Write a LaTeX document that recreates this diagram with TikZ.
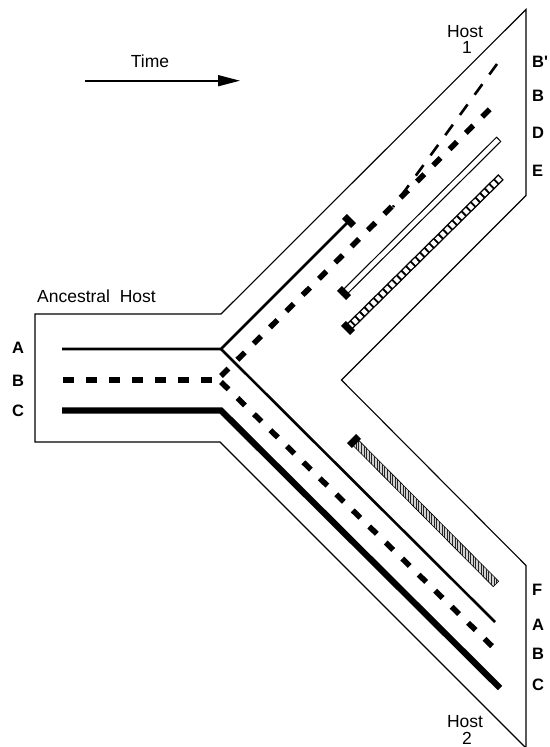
\documentclass[tikz,border=0pt]{standalone}
\usepackage{fontspec}
\setmainfont{Liberation Sans}
\usetikzlibrary{arrows.meta,calc,patterns.meta}
\begin{document}
\begin{tikzpicture}[x=1pt,y=-1pt,
  lbl/.style={font=\fontsize{16.5}{18}\selectfont\bfseries, inner sep=0pt},
  txt/.style={font=\fontsize{17.5}{18}\selectfont, inner sep=0pt},
  outline/.style={line width=1.1pt, line join=miter},
  solidA/.style={line width=2.6pt},
  thickC/.style={line width=6.3pt},
  dashB/.style={line width=5.5pt, dash pattern=on 10.5pt off 12.5pt},
  thinB/.style={line width=2.6pt, dash pattern=on 13pt off 12pt},
  blockend/.style={line width=7pt},
]
\useasboundingbox (0,0) rectangle (549,747);

% outline of hosts
\coordinate (o1) at (35,314);
\coordinate (o2) at (221,314);
\coordinate (o3) at (526,9.5);
\coordinate (o4) at (526,195.5);
\coordinate (o5) at (341.5,380);
\coordinate (o6) at (526,565.5);
\coordinate (o7) at (526,748);
\coordinate (o8) at (220,442);
\coordinate (o9) at (35,442);
\draw[outline] (o1)--(o2)--(o3)--(o4)--(o5)--(o6)--(o7)--(o8)--(o9)--cycle;

% time arrow
\coordinate (t0) at (85,80.7);
\coordinate (t1) at (240,80.7);
\draw[line width=1.6pt, -{Triangle[length=22pt,width=11pt]}] (t0)--(t1);
\node[txt] (time) at (150,61.5) {Time};

% texts
\node[txt] (anc) at (96.5,296.5) {Ancestral\ \ Host};
\node[txt] (h1a) at (465,31.3) {Host};
\node[txt] (h1b) at (467,47.3) {1};
\node[txt] (h2a) at (465,722) {Host};
\node[txt] (h2b) at (467,738.5) {2};

% left labels
\node[lbl] (lA) at (18,348) {A};
\node[lbl] (lB) at (18,381) {B};
\node[lbl] (lC) at (18,411) {C};
% right labels
\node[lbl,anchor=west] (rBp) at (532,62) {B\textquotesingle};
\node[lbl,anchor=west] (rB1) at (532,96) {B};
\node[lbl,anchor=west] (rD) at (532,133) {D};
\node[lbl,anchor=west] (rE) at (532,171) {E};
\node[lbl,anchor=west] (rF) at (532,590) {F};
\node[lbl,anchor=west] (rA) at (532,625) {A};
\node[lbl,anchor=west] (rB2) at (532,654) {B};
\node[lbl,anchor=west] (rC) at (532,685) {C};

% line A
\coordinate (a0) at (62,349);
\coordinate (aj) at (221,349);
\coordinate (a1) at (349,221);
\coordinate (a2) at (495,622);
\draw[solidA, line join=miter] (a0)--(aj)--(a1);
\draw[solidA] (aj)--(a2);
\draw[blockend] ($(a1)+(-4.6,-4.6)$)--($(a1)+(4.6,4.6)$);

% line B
\coordinate (b0) at (63,380);
\coordinate (bj) at (215,380);
\coordinate (bu0) at (221,376);
\coordinate (bu1) at (496,103);
\coordinate (bl0) at (221,382);
\coordinate (bl1) at (496,650);
\draw[dashB] (b0)--(bj);
\draw[dashB] (bu0)--(bu1);
\draw[dashB] (bl0)--(bl1);
% B'
\coordinate (bp0) at (393,207);
\coordinate (bp1) at (497,64);
\draw[thinB] (bp1)--(bp0);

% line C
\coordinate (c0) at (62,410.5);
\coordinate (cj) at (221,410.5);
\coordinate (c1) at (500,688);
\draw[thickC, line join=miter] (c0)--(cj)--(c1);

% D : open bar
\coordinate (d0) at (344,293);
\coordinate (d1) at (499,139);
\draw[line width=7pt] (d0)--(d1);
\draw[white, line width=4.6pt, shorten <=1.2pt, shorten >=1.2pt] (d0)--(d1);
\draw[blockend] ($(d0)+(-4.6,-4.6)$)--($(d0)+(4.6,4.6)$);

% E : ladder bar
\coordinate (e0) at (348,328);
\coordinate (e1) at (501,177);
\draw[line width=8pt] (e0)--(e1);
\draw[white, line width=5.2pt, dash pattern=on 4.3pt off 2.2pt, shorten <=1.4pt, shorten >=1.4pt] (e0)--(e1);
\draw[blockend] ($(e0)+(-4.6,-4.6)$)--($(e0)+(4.6,4.6)$);

% F : hatched bar
\coordinate (f0) at (354,441);
\coordinate (f1) at (496,584);
\fill[gray!35] ($(f0)+(2.7,-2.7)$)--($(f1)+(2.7,-2.7)$)--($(f1)+(-2.7,2.7)$)--($(f0)+(-2.7,2.7)$)--cycle;
\fill[pattern={Lines[angle=90,distance=2.6pt,line width=1pt]}, pattern color=black!85] ($(f0)+(2.7,-2.7)$)--($(f1)+(2.7,-2.7)$)--($(f1)+(-2.7,2.7)$)--($(f0)+(-2.7,2.7)$)--cycle;
\draw[line width=0.6pt] ($(f0)+(2.7,-2.7)$)--($(f1)+(2.7,-2.7)$)--($(f1)+(-2.7,2.7)$)--($(f0)+(-2.7,2.7)$)--cycle;
\draw[blockend] ($(f0)+(-4.6,4.6)$)--($(f0)+(4.6,-4.6)$);

\end{tikzpicture}
\end{document}
